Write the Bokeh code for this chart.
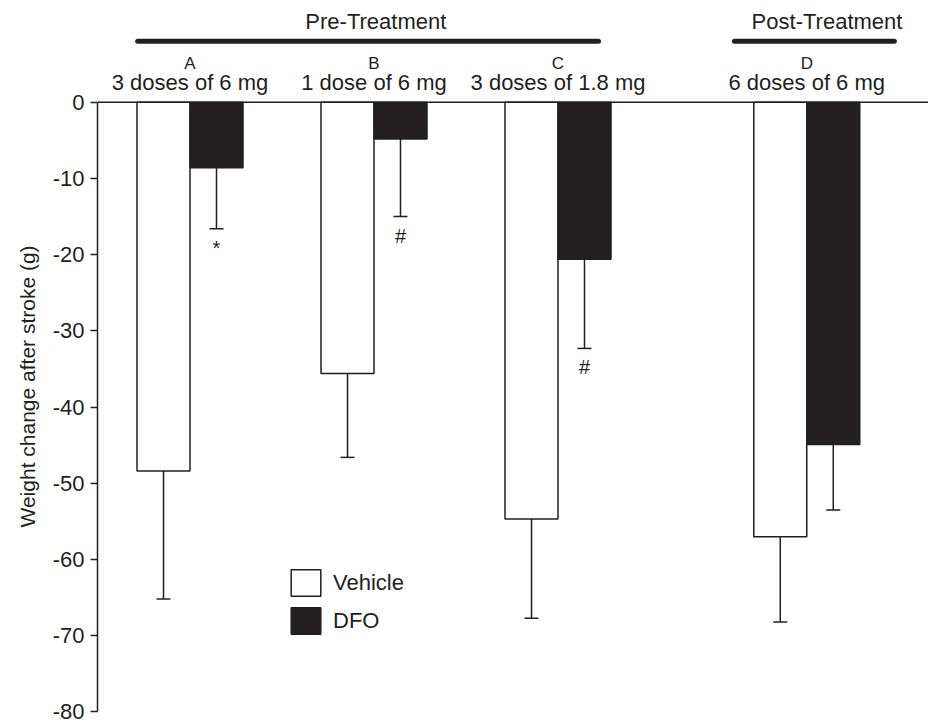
from bokeh.plotting import figure
from bokeh.models import (ColumnDataSource, Range1d, FixedTicker, Whisker, TeeHead,
                          Span, Legend, LegendItem, Title)
from bokeh.core.properties import value
from bokeh.embed import file_html
from bokeh.resources import INLINE

# ---------------- data ----------------
groups = ["A", "B", "C", "D"]
phases = ["Pre", "Pre", "Pre", "Post"]
phase_titles = {"Pre": "Pre-Treatment", "Post": "Post-Treatment"}
doses = ["3 doses of 6 mg", "1 dose of 6 mg", "3 doses of 1.8 mg", "6 doses of 6 mg"]
vehicle_mean = [-48.4, -35.6, -54.7, -57.0]
vehicle_err = [16.8, 11.0, 13.0, 11.2]
dfo_mean = [-8.6, -4.8, -20.6, -44.9]
dfo_err = [8.0, 10.2, 11.7, 8.6]
dfo_marks = ["*", "#", "#", ""]
y_ticks = [0, -10, -20, -30, -40, -50, -60, -70, -80]
y_title = "Weight change after stroke (g)"

# ---------------- layout / style ----------------
INK = "#231f20"
FONT = "Liberation Sans"
BAR_W = 0.288
PHASE_GAP = 0.352
MARK_DY = 2.5
PHASE_TEXT_Y = 10.65
PHASE_LINE_Y = 8.0
LETTER_Y = 5.1
DOSE_Y = 2.6
PHASE_TEXT_DX = {"Pre": 0.01, "Post": 0.11}
PHASE_LINE_EXT = {"Pre": (-0.284, 0.22), "Post": (-0.393, 0.476)}

pos = []
cur = 0.0
for i, ph in enumerate(phases):
    if i > 0 and ph != phases[i - 1]:
        cur += PHASE_GAP
    pos.append(cur)
    cur += 1.0

p = figure(width=928, height=726, output_backend="svg", toolbar_location=None,
           x_range=Range1d(-0.5027, 4.0136), y_range=Range1d(-81.13, 12.31),
           x_axis_location=None, min_border_left=97, min_border_right=0,
           min_border_top=8, min_border_bottom=6)
p.outline_line_color = None
p.xgrid.visible = False
p.ygrid.visible = False
p.background_fill_color = "white"

yax = p.yaxis[0]
yax.bounds = (-80, 0)
yax.ticker = FixedTicker(ticks=y_ticks, minor_ticks=[])
yax.major_label_overrides = {t: str(t) for t in y_ticks}
yax.axis_line_color = INK
yax.axis_line_width = 1.5
yax.major_tick_line_color = INK
yax.major_tick_line_width = 1.5
yax.major_tick_out = 7
yax.major_tick_in = 0
yax.minor_tick_line_color = None
yax.major_label_text_font = FONT
yax.major_label_text_font_size = "22px"
yax.major_label_text_color = INK
yax.major_label_standoff = 6

# y-axis title as a left-side title, placed along the axis
p.add_layout(Title(text=y_title, align="left", offset=193, standoff=22,
                   text_font=FONT, text_font_size="21px", text_font_style="normal",
                   text_color=INK), "left")

# baseline at zero
p.add_layout(Span(location=0, dimension="width", line_color=INK, line_width=1.5))

# bars
veh_x = [q - BAR_W / 2 for q in pos]
dfo_x = [q + BAR_W / 2 for q in pos]
src_v = ColumnDataSource(dict(x=veh_x, bottom=vehicle_mean,
                              lower=[m - e for m, e in zip(vehicle_mean, vehicle_err)]))
src_d = ColumnDataSource(dict(x=dfo_x, bottom=dfo_mean,
                              lower=[m - e for m, e in zip(dfo_mean, dfo_err)]))

r_v = p.vbar(x="x", width=BAR_W, top=0, bottom="bottom", source=src_v,
             fill_color="white", line_color=INK, line_width=1.5)
r_d = p.vbar(x="x", width=BAR_W, top=0, bottom="bottom", source=src_d,
             fill_color=INK, line_color=INK, line_width=1.5)

for src in (src_v, src_d):
    p.add_layout(Whisker(source=src, base="x", upper="bottom", lower="lower",
                         dimension="height", upper_head=None,
                         lower_head=TeeHead(size=14, line_color=INK, line_width=1.5),
                         line_color=INK, line_width=1.5))

# significance marks
mark_y = [m - e - MARK_DY for m, e in zip(dfo_mean, dfo_err)]
p.text(x=dfo_x, y=mark_y, text=dfo_marks, text_align="center",
       text_baseline="alphabetic", text_font=value(FONT), text_font_size="20px",
       text_color=INK)

# group headers
p.text(x=pos, y=[LETTER_Y] * len(pos), text=groups, text_align="center",
       text_baseline="alphabetic", text_font=value(FONT), text_font_size="17px",
       text_color=INK)
p.text(x=pos, y=[DOSE_Y] * len(pos), text=doses, text_align="center",
       text_baseline="alphabetic", text_font=value(FONT), text_font_size="22px",
       text_color=INK)

# phase headers
phase_order = []
for ph in phases:
    if ph not in phase_order:
        phase_order.append(ph)
ph_tx, ph_txt, l_x0, l_x1 = [], [], [], []
for ph in phase_order:
    ps = [q for q, f in zip(pos, phases) if f == ph]
    ph_tx.append(sum(ps) / len(ps) + PHASE_TEXT_DX[ph])
    ph_txt.append(phase_titles[ph])
    l_x0.append(ps[0] + PHASE_LINE_EXT[ph][0])
    l_x1.append(ps[-1] + PHASE_LINE_EXT[ph][1])
p.text(x=ph_tx, y=[PHASE_TEXT_Y] * len(ph_tx), text=ph_txt, text_align="center",
       text_baseline="alphabetic", text_font=value(FONT), text_font_size="22px",
       text_color=INK)
p.segment(x0=l_x0, y0=[PHASE_LINE_Y] * len(l_x0), x1=l_x1, y1=[PHASE_LINE_Y] * len(l_x1),
          line_color=INK, line_width=5, line_cap="round")

# legend
legend = Legend(items=[LegendItem(label="Vehicle", renderers=[r_v]),
                       LegendItem(label="DFO", renderers=[r_d])],
                location=(190, 83), glyph_width=37, glyph_height=33, spacing=5,
                padding=0, margin=0, label_standoff=9, border_line_color=None,
                background_fill_alpha=0, label_text_font=FONT,
                label_text_baseline="alphabetic",
                label_text_font_size="22px", label_text_color=INK)
p.add_layout(legend)

open("out.html", "w").write(file_html(p, INLINE))
